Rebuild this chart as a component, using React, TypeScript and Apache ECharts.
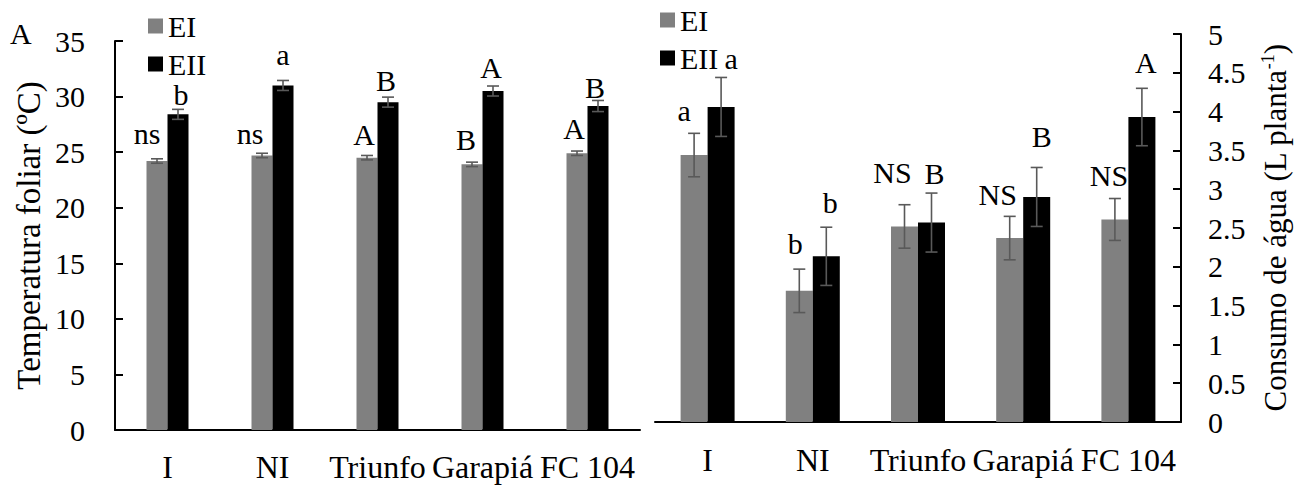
import React, { useEffect, useRef } from "react";
import * as echarts from "echarts";

const categories = ["I", "NI", "Triunfo", "Garapiá", "FC 104"];

const tempEI = [24.2, 24.7, 24.5, 23.9, 24.9];
const tempEIErr = [0.2, 0.2, 0.2, 0.2, 0.2];
const tempEII = [28.4, 31.0, 29.5, 30.5, 29.15];
const tempEIIErr = [0.45, 0.45, 0.45, 0.45, 0.5];
const tempEILabels = ["ns", "ns", "A", "B", "A"];
const tempEIILabels = ["b", "a", "B", "A", "B"];

const waterEI = [3.44, 1.69, 2.52, 2.37, 2.61];
const waterEIErr = [0.28, 0.28, 0.28, 0.28, 0.27];
const waterEII = [4.06, 2.135, 2.57, 2.9, 3.93];
const waterEIIErr = [0.38, 0.375, 0.38, 0.38, 0.37];
const waterEILabels = ["a", "b", "NS", "NS", "NS"];
const waterEIILabels = ["a", "b", "B", "B", "A"];

const FONT = "'Liberation Serif', 'Times New Roman', serif";
const FS = 30;

// label placement tweaks (pixels): [dx per item], [gap above error bar per item]
function errSeries(
  values: number[],
  errs: number[],
  labels: string[],
  axis: number,
  offset: number,
  dx: number[],
  gaps: number[]
) {
  return {
    type: "custom",
    xAxisIndex: axis,
    yAxisIndex: axis,
    z: 5,
    silent: true,
    data: values.map((v, i) => [i, v, errs[i]]),
    renderItem: (params: any, api: any) => {
      const i = api.value(0);
      const v = api.value(1);
      const e = api.value(2);
      const c = api.coord([i, v]);
      const hi = api.coord([i, v + e]);
      const lo = api.coord([i, v - e]);
      const x = c[0] + offset;
      const cap = 6;
      const st = { stroke: "#595959", lineWidth: 1.6 };
      const k = params.dataIndex;
      return {
        type: "group",
        children: [
          { type: "line", shape: { x1: x, y1: hi[1], x2: x, y2: lo[1] }, style: st },
          { type: "line", shape: { x1: x - cap, y1: hi[1], x2: x + cap, y2: hi[1] }, style: st },
          { type: "line", shape: { x1: x - cap, y1: lo[1], x2: x + cap, y2: lo[1] }, style: st },
          {
            type: "text",
            x: x + dx[k],
            y: hi[1] - gaps[k],
            style: {
              text: labels[k],
              fontSize: FS,
              fontFamily: FONT,
              fill: "#000",
              align: "center",
              verticalAlign: "bottom",
            },
          },
        ],
      };
    },
  };
}

export default function App() {
  const ref = useRef<HTMLDivElement>(null);
  useEffect(() => {
    if (!ref.current) return;
    const chart = echarts.init(ref.current, undefined, { renderer: "svg" });
    const axisLine = { show: true, lineStyle: { color: "#000", width: 2 } };
    const labelStyle = { fontSize: FS, fontFamily: FONT, color: "#000" };
    const legendBase = {
      orient: "vertical",
      icon: "rect",
      itemWidth: 15,
      itemHeight: 15,
      itemGap: 8,
      data: ["EI", "EII"],
      textStyle: { fontSize: FS, fontFamily: FONT, color: "#000", lineHeight: 26 },
      selectedMode: false,
    };
    const lw = 21;
    const rw = 27;
    chart.setOption({
      animation: false,
      backgroundColor: "#fff",
      textStyle: { fontFamily: FONT },
      graphic: [
        {
          type: "text",
          left: 10,
          top: 18,
          style: { text: "A", fontSize: FS, fontFamily: FONT, fill: "#000" },
        },
      ],
      legend: [
        { ...legendBase, left: 143, top: 6 },
        { ...legendBase, left: 655, top: 0 },
      ],
      grid: [
        { left: 115, top: 41, width: 525, height: 389 },
        { left: 655, top: 34, width: 526, height: 388 },
      ],
      xAxis: [
        {
          type: "category",
          gridIndex: 0,
          data: categories,
          axisLine,
          axisTick: { show: false },
          axisLabel: { ...labelStyle, fontSize: 32, margin: 21, interval: 0 },
        },
        {
          type: "category",
          gridIndex: 1,
          data: categories,
          axisLine,
          axisTick: { show: false },
          axisLabel: { ...labelStyle, fontSize: 32, margin: 22, interval: 0 },
        },
      ],
      yAxis: [
        {
          type: "value",
          gridIndex: 0,
          min: 0,
          max: 35,
          interval: 5,
          axisLine,
          axisTick: { show: true, inside: true, length: 8, lineStyle: { color: "#000", width: 2 } },
          splitLine: { show: false },
          axisLabel: { ...labelStyle, margin: 30 },
          name: "Temperatura foliar (ºC)",
          nameLocation: "middle",
          nameRotate: 90,
          nameGap: 70,
          nameTextStyle: { fontSize: 33, fontFamily: FONT, color: "#000" },
        },
        {
          type: "value",
          gridIndex: 1,
          position: "right",
          min: 0,
          max: 5,
          interval: 0.5,
          axisLine,
          axisTick: { show: true, inside: true, length: 8, lineStyle: { color: "#000", width: 2 } },
          splitLine: { show: false },
          axisLabel: { ...labelStyle, margin: 27 },
          name: "{a|Consumo de água (L planta}{s|-1}{a|)}",
          nameLocation: "middle",
          nameRotate: 90,
          nameGap: 78,
          nameTextStyle: {
            fontSize: 31,
            fontFamily: FONT,
            color: "#000",
            rich: {
              a: { fontSize: 31, fontFamily: FONT, color: "#000", lineHeight: 32 },
              s: { fontSize: 18, fontFamily: FONT, color: "#000", verticalAlign: "top", lineHeight: 32 },
            },
          },
        },
      ],
      series: [
        {
          name: "EI",
          type: "bar",
          xAxisIndex: 0,
          yAxisIndex: 0,
          barWidth: lw,
          barGap: "0%",
          itemStyle: { color: "#808080" },
          data: tempEI,
        },
        {
          name: "EII",
          type: "bar",
          xAxisIndex: 0,
          yAxisIndex: 0,
          barWidth: lw,
          barGap: "0%",
          itemStyle: { color: "#000000" },
          data: tempEII,
        },
        {
          name: "EI",
          type: "bar",
          xAxisIndex: 1,
          yAxisIndex: 1,
          barWidth: rw,
          barGap: "0%",
          itemStyle: { color: "#808080" },
          data: waterEI,
        },
        {
          name: "EII",
          type: "bar",
          xAxisIndex: 1,
          yAxisIndex: 1,
          barWidth: rw,
          barGap: "0%",
          itemStyle: { color: "#000000" },
          data: waterEII,
        },
        errSeries(tempEI, tempEIErr, tempEILabels, 0, -lw / 2, [-10, -12, -3, -6, -3], [10, 5, 6, 8, 8]),
        errSeries(tempEII, tempEIIErr, tempEIILabels, 0, lw / 2, [3, 0, -2, -2, -3], [0, 11, 2, 4, -2]),
        errSeries(waterEI, waterEIErr, waterEILabels, 1, -rw / 2, [-10, -4, -12, -12, -6], [8, 11, 17, 7, 8]),
        errSeries(waterEII, waterEIIErr, waterEIILabels, 1, rw / 2, [10, 4, 3, 5, 4], [4, 10, 5, 16, 11]),
      ],
    });
    return () => chart.dispose();
  }, []);
  return (
    <div
      ref={ref}
      style={{ position: "absolute", left: 0, top: 0, width: 1309, height: 487 }}
    />
  );
}
